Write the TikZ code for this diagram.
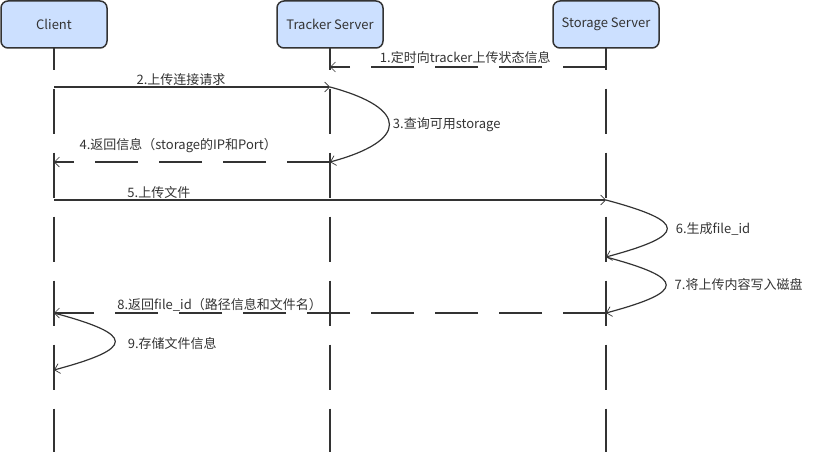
\documentclass[tikz,border=0pt]{standalone}
\usepackage{fontspec}
\setmainfont{Noto Sans CJK SC}
\usetikzlibrary{arrows.meta}
\usepackage{xcolor}
\definecolor{boxblue}{RGB}{204,224,255}
\definecolor{inkgray}{RGB}{51,51,51}
\tikzset{
actor/.style={draw=inkgray,fill=boxblue,rounded corners=7pt,line width=1.5pt,minimum width=106pt,minimum height=47pt,font=\fontsize{13}{15}\selectfont,text=inkgray},
lifeline/.style={draw=inkgray,line width=1.6pt,dash pattern=on 45pt off 19pt},
call/.style={draw=inkgray,line width=1.2pt,-{Straight Barb[length=5pt,width=10pt,line width=0.7pt]}},
reply/.style={call,dash pattern=on 43pt off 21pt},
selfcall/.style={call,out=-15,in=15,looseness=3.8},
msg/.style={font=\fontsize{13}{15}\selectfont,text=inkgray,inner sep=1pt}
}

\begin{document}
\begin{tikzpicture}[x=1pt,y=1pt]
\useasboundingbox (0,0) rectangle (816,-452);
% lifelines first, the boxes cover their tops
\coordinate (clientend) at (54,-452);
\coordinate (trackerend) at (330,-452);
\coordinate (storageend) at (606,-452);
\coordinate (clienttop) at (54,-24.5);
\coordinate (trackertop) at (330,-24.5);
\coordinate (storagetop) at (606,-24.5);
\foreach \t/\e in {clienttop/clientend,trackertop/trackerend,storagetop/storageend}{\draw[lifeline] (\t) -- (\e);}
\node[actor] (client) at (clienttop) {Client};
\node[actor] (tracker) at (trackertop) {Tracker Server};
\node[actor] (storage) at (storagetop) {Storage Server};

% message anchors on the lifelines
\coordinate (s1) at (606,-67); \coordinate (t1) at (330,-67);
\coordinate (c2) at (54,-87); \coordinate (t2) at (330,-87);
\coordinate (t3) at (330,-162); \coordinate (c4) at (54,-162);
\coordinate (c5) at (54,-200); \coordinate (s5) at (606,-200);
\coordinate (s6) at (606,-257); \coordinate (s7) at (606,-313);
\coordinate (c8) at (54,-313); \coordinate (c9) at (54,-370);

\draw[reply] (s1) -- node[msg,above=2pt,pos=0.51]{1.定时向tracker上传状态信息} (t1);
\draw[call] (c2) -- node[msg,above,pos=0.46]{2.上传连接请求} (t2);
\draw[selfcall,looseness=2.8] (t2) to node[msg,right=2pt]{3.查询可用storage} (t3);
\draw[reply] (t3) -- node[msg,above=8pt,pos=0.55]{4.返回信息（storage的IP和Port）} (c4);
\draw[call] (c5) -- node[msg,above,pos=0.19]{5.上传文件} (s5);
\draw[selfcall] (s5) to node[msg,right=7pt]{6.生成file\_id} (s6);
\draw[selfcall] (s6) to node[msg,right=7pt]{7.将上传内容写入磁盘} (s7);
\draw[reply] (s7) -- node[msg,above,pos=0.70]{8.返回file\_id（路径信息和文件名）} (c8);
\draw[selfcall] (c8) to node[msg,right=11pt,yshift=-2pt]{9.存储文件信息} (c9);
\end{tikzpicture}
\end{document}
